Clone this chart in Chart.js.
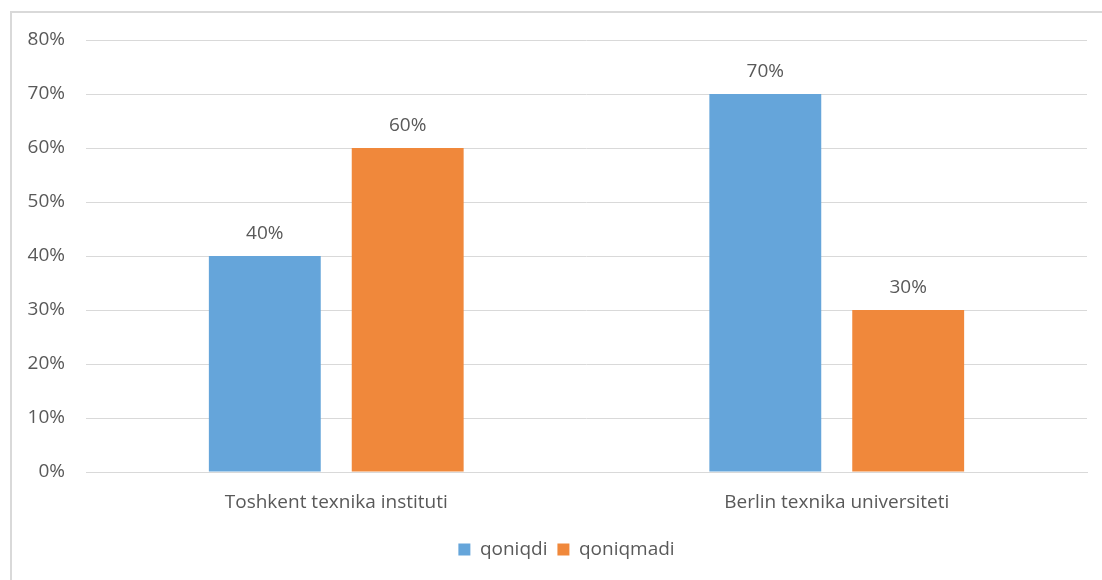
<!DOCTYPE html>
<html>
<head>
<meta charset="utf-8">
<script src="https://cdn.jsdelivr.net/npm/chart.js@4"></script>
<style>
  html, body { margin: 0; padding: 0; background: #fff; }
  #wrap { position: relative; width: 1102px; height: 580px; overflow: hidden; }
  #frame { position: absolute; left: 10px; top: 11px; width: 1200px; height: 700px; border: 2px solid #d9d9d9; box-sizing: border-box; }
  #chart { position: absolute; left: 0; top: 0; }
</style>
</head>
<body>
<div id="wrap">
  <div id="frame"></div>
  <canvas id="chart" width="1102" height="580"></canvas>
</div>
<script>
const categories = ['Toshkent texnika instituti', 'Berlin texnika universiteti'];
const seriesNames = ['qoniqdi', 'qoniqmadi'];
const qoniqdi = [40, 70];
const qoniqmadi = [60, 30];
const yTicks = [0, 10, 20, 30, 40, 50, 60, 70, 80];

const textColor = '#595959';
const fontFamily = "'Open Sans', 'Noto Sans', sans-serif";
const fontSize = 19;

// labels above each bar
const valueLabels = {
    id: 'valueLabels',
    afterDatasetsDraw(chart) {
        const ctx = chart.ctx;
        ctx.save();
        ctx.font = `${fontSize}px ${fontFamily}`;
        ctx.fillStyle = textColor;
        ctx.textAlign = 'center';
        ctx.textBaseline = 'alphabetic';
        chart.data.datasets.forEach((ds, i) => {
            chart.getDatasetMeta(i).data.forEach((bar, j) => {
                ctx.fillText(ds.data[j] + '%', bar.x, bar.y - 17);
            });
        });
        ctx.restore();
    }
};

// the legend sits a bit right of the canvas centre in the original
const legendShift = {
    id: 'legendShift',
    afterLayout(chart) {
        if (chart.legend) {
            chart.legend.left += 23;
            chart.legend.right += 23;
        }
    }
};

new Chart(document.getElementById('chart'), {
    type: 'bar',
    data: {
        labels: categories,
        datasets: [
            { label: seriesNames[0], data: qoniqdi, backgroundColor: '#65A5DA' },
            { label: seriesNames[1], data: qoniqmadi, backgroundColor: '#F0883B' }
        ]
    },
    options: {
        responsive: false,
        animation: false,
        devicePixelRatio: 1,
        categoryPercentage: 0.571,
        barPercentage: 0.783,
        layout: { padding: { left: 0, top: 40, right: 15, bottom: 11 } },
        scales: {
            x: {
                grid: { display: false, drawTicks: false },
                border: { color: '#d9d9d9' },
                ticks: { color: textColor, font: { family: fontFamily, size: fontSize }, padding: 19 },
                afterFit: (s) => { s.height = 58; }
            },
            y: {
                min: 0, max: 80,
                afterBuildTicks: (s) => { s.ticks = yTicks.map(v => ({ value: v })); },
                grid: { color: '#d9d9d9', drawTicks: false },
                border: { display: false },
                ticks: { color: textColor, font: { family: fontFamily, size: fontSize }, padding: 21, callback: v => v + '%' },
                afterFit: (s) => { s.width = 86; }
            }
        },
        plugins: {
            legend: {
                position: 'bottom',
                labels: { color: textColor, font: { family: fontFamily, size: fontSize }, boxWidth: 12, boxHeight: 12, padding: 10 }
            },
            tooltip: { enabled: false }
        }
    },
    plugins: [valueLabels, legendShift]
});
</script>
</body>
</html>
